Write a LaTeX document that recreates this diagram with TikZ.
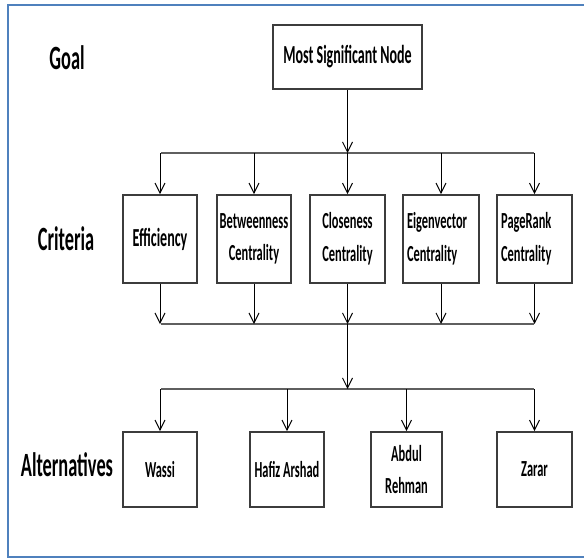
\documentclass[tikz,border=0pt]{standalone}
\usepackage{fontspec}
\setmainfont{Carlito}[FakeStretch=0.54]
\usetikzlibrary{arrows.meta}

\definecolor{frameblue}{RGB}{79,129,189}
\definecolor{boxgray}{RGB}{60,60,60}
\definecolor{bargray}{RGB}{95,95,95}

\tikzset{every picture/.style={line width=0.75pt}}
\tikzset{
  box/.style={draw=boxgray, line width=1.3pt, inner sep=0pt, inner xsep=2pt, align=center,
    font=\fontsize{17.25}{24.5}\selectfont\bfseries},
  bigbox/.style={box, font=\fontsize{19.5}{24.5}\selectfont\bfseries},
  critbox/.style={minimum width=55.5pt, minimum height=66pt},
  altbox/.style={minimum width=55.5pt, minimum height=56.25pt},
  level/.style={anchor=base, font=\fontsize{25.5}{30}\selectfont\bfseries},
  link/.style={draw=black, line width=0.75pt, -{Straight Barb[length=7.5pt,width=7.5pt]}},
  bar/.style={draw=bargray, line width=2pt},
}

\begin{document}
\begin{tikzpicture}[x=0.75pt,y=0.75pt,yscale=-1,xscale=1]
\useasboundingbox (0,0) rectangle (584,558);

%Shape: Frame
\draw [color=frameblue, line width=1.5pt] (586,5) -- (8,5) -- (8,557) -- (586,557);

% Text Node
\draw (67,69) node [level] (goal) {Goal};
% Text Node
\draw (66,250) node [level] (crit) {Criteria};
% Text Node
\draw (67,476) node [level] (alts) {Alternatives};

% Goal box
\draw (347.5,57) node [bigbox, minimum width=111.75pt, minimum height=48pt] (msn) {Most Significant Node};

% Criteria boxes
\draw (160,239) node [bigbox, critbox] (effic) {Efficiency};
\draw (254,239) node [box, critbox] (betw) {Betweenness\\Centrality};
\draw (347.5,239) node [box, critbox, minimum width=56.25pt] (clos) {Closeness\\Centrality};
\draw (441,239) node [box, critbox, minimum width=57pt, align=left, text width=51pt] (eigen) {Eigenvector\\Centrality};
\draw (534.5,239) node [box, critbox, minimum width=56.25pt, align=left, text width=50pt, inner xsep=3pt] (pgrank) {PageRank\\Centrality};

% Alternative boxes
\draw (160,469.5) node [box, altbox] (wassi) {Wassi};
\draw (287,469.5) node [box, altbox] (hafiz) {Hafiz Arshad};
\draw (406.5,469.5) node [box, altbox, minimum width=53.25pt] (abdul) {Abdul\\Rehman};
\draw (534.5,469.5) node [box, altbox, minimum width=56.25pt] (zarar) {Zarar};

%Shape: Bars
\coordinate (bar1w) at (161,153);
\coordinate (bar1e) at (534,153);
\coordinate (bar2w) at (161,324);
\coordinate (bar2e) at (534,324);
\coordinate (bar3w) at (161,389);
\coordinate (bar3e) at (534,389);
\draw [bar] (bar1w) -- (bar1e);
\draw [bar] (bar2w) -- (bar2e);
\draw [bar] (bar3w) -- (bar3e);

% Goal to criteria
\draw [link] (msn) -- (msn |- bar1w);
\draw [link] (effic |- bar1w) -- (effic);
\draw [link] (betw |- bar1w) -- (betw);
\draw [link] (clos |- bar1w) -- (clos);
\draw [link] (eigen |- bar1w) -- (eigen);
\draw [link] (pgrank |- bar1w) -- (pgrank);

% Criteria to alternatives
\draw [link] (effic) -- (effic |- bar2w);
\draw [link] (betw) -- (betw |- bar2w);
\draw [link] (clos) -- (clos |- bar2w);
\draw [link] (eigen) -- (eigen |- bar2w);
\draw [link] (pgrank) -- (pgrank |- bar2w);
\draw [link] (clos |- bar2w) -- (clos |- bar3w);
\draw [link] (wassi |- bar3w) -- (wassi);
\draw [link] (hafiz |- bar3w) -- (hafiz);
\draw [link] (abdul |- bar3w) -- (abdul);
\draw [link] (zarar |- bar3w) -- (zarar);

\end{tikzpicture}
\end{document}
